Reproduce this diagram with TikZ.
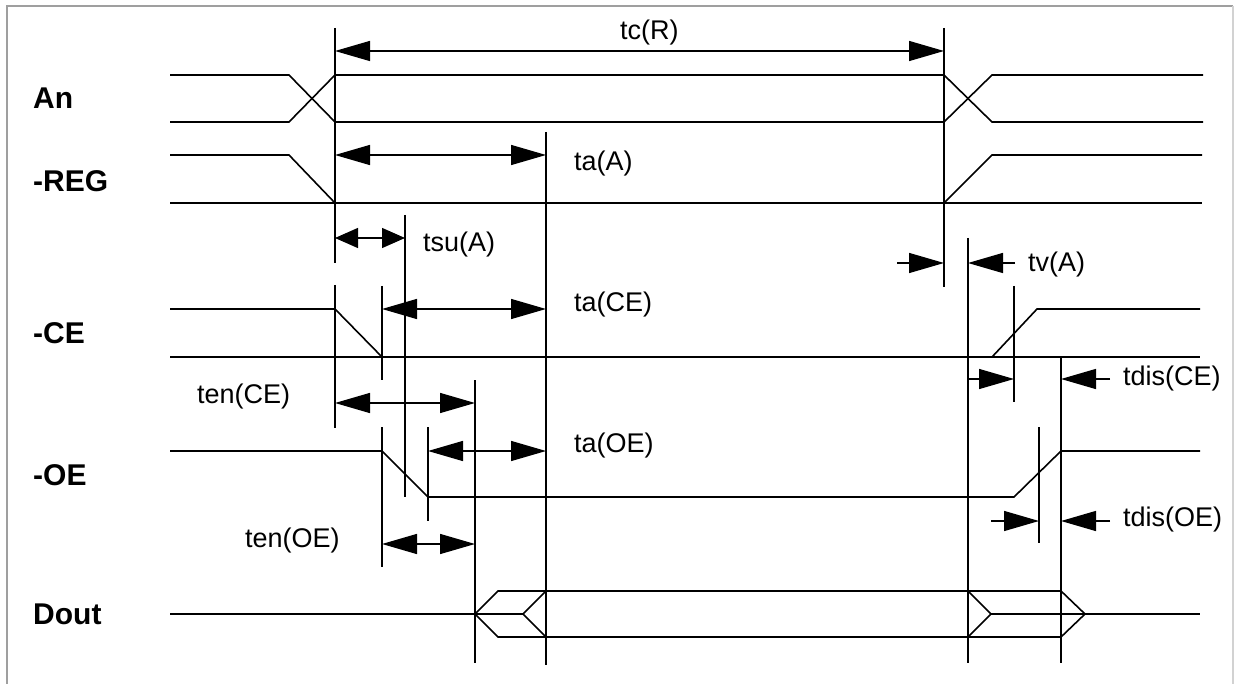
\documentclass[tikz,border=0pt]{standalone}
\usepackage{fontspec}
\setmainfont{Liberation Sans}
\usetikzlibrary{arrows.meta}

\begin{document}
\begin{tikzpicture}[
    x=1pt, y=-1pt,
    sig/.style={anchor=base west, inner sep=0pt, font=\fontsize{30}{32}\selectfont\bfseries},
    tlabel/.style={anchor=base west, inner sep=0pt, font=\fontsize{27}{30}\selectfont},
    wave/.style={line width=1.6pt, line join=miter},
    guide/.style={line width=1.4pt},
    dimarrow/.style={line width=1.4pt, {Triangle[length=35pt,width=20pt]}-{Triangle[length=35pt,width=20pt]}},
    smallarrow/.style={line width=1.4pt, {Triangle[length=23pt,width=20pt]}-{Triangle[length=23pt,width=20pt]}},
    onearrow/.style={line width=1.4pt, -{Triangle[length=35pt,width=20pt]}}
]
\useasboundingbox (0,0) rectangle (1236,684);
\draw[gray!75, line width=2pt] (7,690) -- (7,6) -- (1233,6);
\draw[gray!35, line width=1.2pt] (1233,6) -- (1233,690);

% Signal names
\node[sig] (an)   at (33,109) {An};
\node[sig] (reg)  at (33,192) {-REG};
\node[sig] (ce)   at (33,343) {-CE};
\node[sig] (oe)   at (33,485) {-OE};
\node[sig] (dout) at (33,624) {Dout};

% Waveforms
\draw[wave] (170,75) -- (289,75) -- (335,122) -- (944,122) -- (992,75) -- (1203,75);
\draw[wave] (170,122) -- (289,122) -- (335,75) -- (944,75) -- (992,122) -- (1203,122);

\draw[wave] (170,155) -- (289,155) -- (335,203) -- (944,203) -- (992,155) -- (1202,155);
\draw[wave] (170,203) -- (1202,203);

\draw[wave] (170,309) -- (335,309) -- (382,357);
\draw[wave] (170,357) -- (1200,357);
\draw[wave] (992,357) -- (1037,309) -- (1200,309);

\draw[wave] (170,451) -- (382,451) -- (428,497) -- (1014,497) -- (1061,451) -- (1200,451);

\draw[wave] (170,614) -- (523,614);
\draw[wave] (475,614) -- (498,591) -- (1061,591) -- (1085,614) -- (1061,637) -- (498,637) -- cycle;
\draw[wave] (546,591) -- (523,614) -- (546,637);
\draw[wave] (968,591) -- (991,614) -- (968,637);
\draw[wave] (991,614) -- (1200,614);

% Time marks
\foreach \x/\ya/\yb in {335/28/263, 335/285/428, 944/28/287, 546/132/665,
    405/215/497, 382/286/380, 382/427/567, 475/380/663, 428/427/521,
    968/238/663, 1014/286/402, 1061/357/663, 1039/427/543}
    \draw[guide] (\x,\ya) -- (\x,\yb);

% Timing arrows
\foreach \xa/\xb/\y in {335/944/51, 335/546/155, 382/546/309, 335/475/403,
    428/546/451, 382/475/544}
    \draw[dimarrow] (\xa,\y) -- (\xb,\y);
\draw[smallarrow] (335,238) -- (405,238);

\foreach \xa/\xb/\y in {897/944/263, 1015/968/263, 968/1014/379, 1110/1061/379,
    991/1039/521, 1110/1061/521}
    \draw[onearrow] (\xa,\y) -- (\xb,\y);

% Timing labels
\node[tlabel] (tcr)   at (620,40)   {tc(R)};
\node[tlabel] (taa)   at (574,171)  {ta(A)};
\node[tlabel] (tsua)  at (423,252)  {tsu(A)};
\node[tlabel] (tace)  at (574,312)  {ta(CE)};
\node[tlabel] (taoe)  at (574,452)  {ta(OE)};
\node[tlabel] (tva)   at (1028,272) {tv(A)};
\node[tlabel] (tdisce) at (1123,385) {tdis(CE)};
\node[tlabel] (tdisoe) at (1123,526) {tdis(OE)};
\node[tlabel] (tence) at (197,403)  {ten(CE)};
\node[tlabel] (tenoe) at (245,547)  {ten(OE)};

\end{tikzpicture}
\end{document}
